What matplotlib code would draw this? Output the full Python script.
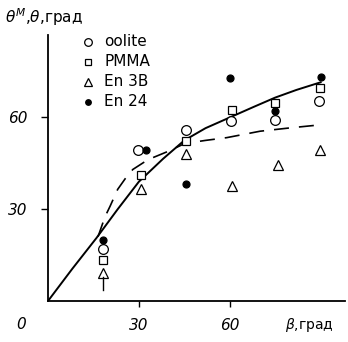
import numpy as np
import matplotlib.pyplot as plt

oolite_x = [18, 29.7, 45.4, 60.5, 75, 89.5]
oolite_y = [17, 49.5, 55.8, 58.8, 59.1, 65.3]
pmma_x = [18, 30.7, 45.4, 60.7, 74.9, 89.7]
pmma_y = [13.4, 41.3, 52.2, 62.6, 64.8, 69.7]
en3b_x = [18, 30.7, 45.4, 60.7, 75.9, 89.7]
en3b_y = [9.2, 36.7, 47.9, 37.5, 44.6, 49.5]
en24_x = [18, 32.3, 45.4, 60, 75, 90]
en24_y = [20, 49.5, 38.4, 72.8, 62, 73.3]

# theory curves
solid_x = [0, 8, 16, 23, 30, 38, 45, 52, 60, 68, 75, 82, 90]
solid_y = [0, 10.5, 20.6, 30, 39, 46.5, 52.5, 56.5, 60, 63.5, 66.5, 69, 71.5]
dash_x = [16.5, 18.8, 20.5, 23, 25.5, 28, 33, 39.6, 45.2, 52, 59, 70, 80, 89]
dash_y = [21, 27.5, 31, 36.5, 40, 43, 46.2, 48.9, 51.5, 52.5, 53.4, 55.5, 56.6, 57.5]

legend_labels = ['oolite', 'PMMA', 'En 3B', 'En 24']

fig = plt.figure(figsize=(3.48, 3.42), dpi=100)
ax = fig.add_axes([0.138, 0.12, 0.853, 0.778])

ax.plot(solid_x, solid_y, color='black', lw=1.4)
ax.plot(dash_x, dash_y, color='black', lw=1.2, dashes=(9, 6))

mk = dict(linestyle='none', color='black', markeredgewidth=0.9)
ax.plot(oolite_x, oolite_y, marker='o', mfc='white', ms=7, **mk)
ax.plot(pmma_x, pmma_y, marker='s', mfc='white', ms=6, **mk)
ax.plot(en3b_x, en3b_y, marker='^', mfc='white', ms=7, **mk)
ax.plot(en24_x, en24_y, marker='o', mfc='black', ms=5, **mk)
# small stem under the first triangle
ax.plot([en3b_x[0], en3b_x[0]], [en3b_y[0] - 1.5, en3b_y[0] - 5.5], color='black', lw=1)

ax.set_xlim(0, 98)
ax.set_ylim(0, 87)
for s in ['top', 'right']:
    ax.spines[s].set_visible(False)
for s in ['left', 'bottom']:
    ax.spines[s].set_linewidth(1.3)

ax.set_xticks([30, 60])
ax.set_yticks([30, 60])
ax.tick_params(axis='x', direction='out', length=4, width=1, pad=8, labelsize=11)
ax.tick_params(axis='y', direction='out', length=5, width=1, pad=10, labelsize=11)
for lab in ax.get_xticklabels() + ax.get_yticklabels():
    lab.set_fontstyle('italic')

fig.text(0.06, 0.05, '0', fontsize=11, fontstyle='italic', ha='center', va='center')
fig.text(0.82, 0.05, r'$\beta$,град', fontsize=10, ha='left', va='center')
fig.text(0.015, 0.95, r'$\theta^{M}$,$\theta$,град', fontsize=11, ha='left', va='center')

# legend drawn by hand in figure coords
markers = [dict(marker='o', mfc='white', ms=5.5), dict(marker='s', mfc='white', ms=4.5),
           dict(marker='^', mfc='white', ms=5.5), dict(marker='o', mfc='black', ms=4)]
for i, (lab, m) in enumerate(zip(legend_labels, markers)):
    yy = 1 - (42 + 20 * i) / 342
    fig.add_artist(plt.Line2D([88 / 348], [yy], transform=fig.transFigure, color='black',
                              markeredgewidth=0.9, linestyle='none', **m))
    fig.text(104 / 348, yy, lab, fontsize=11, ha='left', va='center')

fig.savefig('out.png', dpi=100)
